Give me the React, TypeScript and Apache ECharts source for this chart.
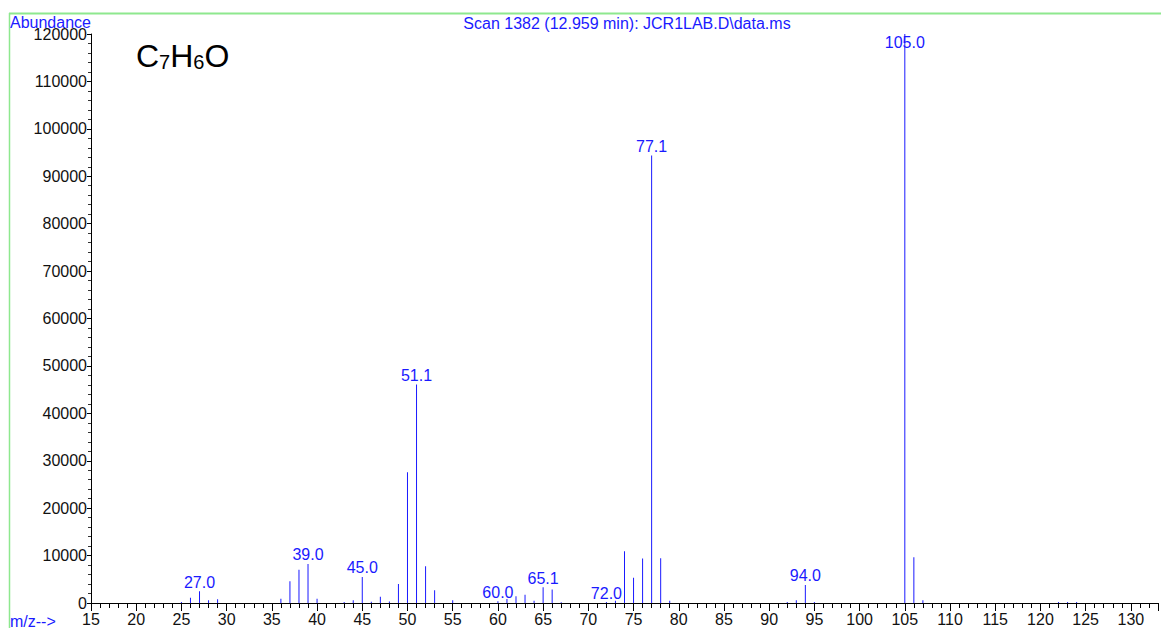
import React, { useEffect, useRef } from "react";
import * as echarts from "echarts";

// m/z values and abundances
const mz = [25, 26, 27, 28, 29, 36, 37, 38, 39, 40, 43, 44, 45, 46, 47, 48, 49, 50, 51, 52, 53, 55, 60, 61, 62, 63, 64, 65, 66, 67, 72, 73, 74, 75, 76, 77, 78, 79, 92, 93, 94, 95, 105, 106, 107, 122, 123, 124];
const abundance = [200, 1100, 2500, 570, 780, 920, 4600, 7000, 8250, 900, 200, 570, 5500, 250, 1300, 300, 4000, 27600, 46100, 7750, 2700, 570, 350, 850, 1400, 1750, 500, 3300, 2850, 150, 200, 500, 10900, 5300, 9400, 94400, 9450, 500, 200, 570, 3800, 200, 120000, 9650, 570, 200, 200, 200];
// annotated peaks (m/z -> printed label)
const labelMz = [27, 39, 45, 51, 60, 65, 72, 77, 94, 105];
const labelText = ["27.0", "39.0", "45.0", "51.1", "60.0", "65.1", "72.0", "77.1", "94.0", "105.0"];

const title = "Scan 1382 (12.959 min): JCR1LAB.D\\data.ms";
const yName = "Abundance";
const xName = "m/z-->";

const FONT = "'Liberation Sans', Arial, sans-serif";
const BLUE = "#1a1aff";

export default function App() {
  const ref = useRef<HTMLDivElement>(null);
  useEffect(() => {
    if (!ref.current) return;
    const chart = echarts.init(ref.current, null, { renderer: "svg" });
    const data = mz.map((m, i) => {
      const li = labelMz.indexOf(m);
      const item: any = { value: [m, abundance[i]] };
      if (li >= 0) {
        const isTop = abundance[i] >= 120000;
        item.label = {
          show: true,
          formatter: labelText[li],
          position: isTop ? "insideTop" : "top",
          distance: isTop ? 0 : 1,
          color: BLUE,
          fontSize: 16,
          fontFamily: FONT,
          lineHeight: 16,
        };
      }
      return item;
    });
    chart.setOption({
      animation: false,
      backgroundColor: "#fff",
      grid: { left: 91, right: 2, top: 34, bottom: 25, containLabel: false },
      xAxis: {
        type: "value",
        min: 15,
        max: 133,
        interval: 5,
        axisLine: { show: true, onZero: false, lineStyle: { color: "#000", width: 1 } },
        axisTick: { show: true, length: 8, lineStyle: { color: "#000" } },
        minorTick: { show: true, splitNumber: 5, length: 5, lineStyle: { color: "#000" } },
        splitLine: { show: false },
        axisLabel: {
          color: "#111",
          fontSize: 16,
          fontFamily: FONT,
          margin: 8,
          formatter: (v: number) => (v % 5 === 0 && v <= 130 ? String(v) : ""),
        },
      },
      yAxis: {
        type: "value",
        min: 0,
        max: 120000,
        interval: 10000,
        axisLine: { show: true, lineStyle: { color: "#000", width: 1 } },
        axisTick: { show: true, length: 4, lineStyle: { color: "#000" } },
        minorTick: { show: true, splitNumber: 5, length: 3, lineStyle: { color: "#333" } },
        splitLine: { show: false },
        axisLabel: {
          color: "#111",
          fontSize: 16,
          fontFamily: FONT,
          margin: 4,
          formatter: (v: number) => String(v),
        },
      },
      series: [
        {
          type: "bar",
          barWidth: 1,
          itemStyle: { color: BLUE },
          data,
        },
      ],
      graphic: [
        { type: "line", shape: { x1: 9, y1: 13.5, x2: 1161, y2: 13.5 }, style: { stroke: "#8ee88e", lineWidth: 2 } },
        { type: "line", shape: { x1: 9.5, y1: 13, x2: 9.5, y2: 628 }, style: { stroke: "#8ee88e", lineWidth: 1.5 } },
        {
          type: "text",
          left: 10,
          top: 14,
          style: { text: yName, fill: BLUE, fontSize: 16, fontFamily: FONT },
        },
        {
          type: "text",
          x: 627,
          y: 23,
          style: { text: title, fill: BLUE, fontSize: 16, fontFamily: FONT, textAlign: "center", textVerticalAlign: "middle" },
        },
        {
          type: "text",
          left: 10,
          top: 613,
          style: { text: xName, fill: BLUE, fontSize: 16, fontFamily: FONT },
        },
        {
          type: "text",
          x: 136,
          y: 38,
          style: {
            text: "{b|C}{s|7}{b|H}{s|6}{b|O}",
            fill: "#000",
            fontFamily: FONT,
            rich: {
              b: { fontSize: 32, fontFamily: FONT, fill: "#000", lineHeight: 34, verticalAlign: "bottom" },
              s: { fontSize: 20, fontFamily: FONT, fill: "#000", lineHeight: 34, verticalAlign: "bottom" },
            },
          },
        },
      ],
    });
    return () => chart.dispose();
  }, []);
  return <div ref={ref} style={{ position: "fixed", left: 0, top: 0, width: 1161, height: 628 }} />;
}
